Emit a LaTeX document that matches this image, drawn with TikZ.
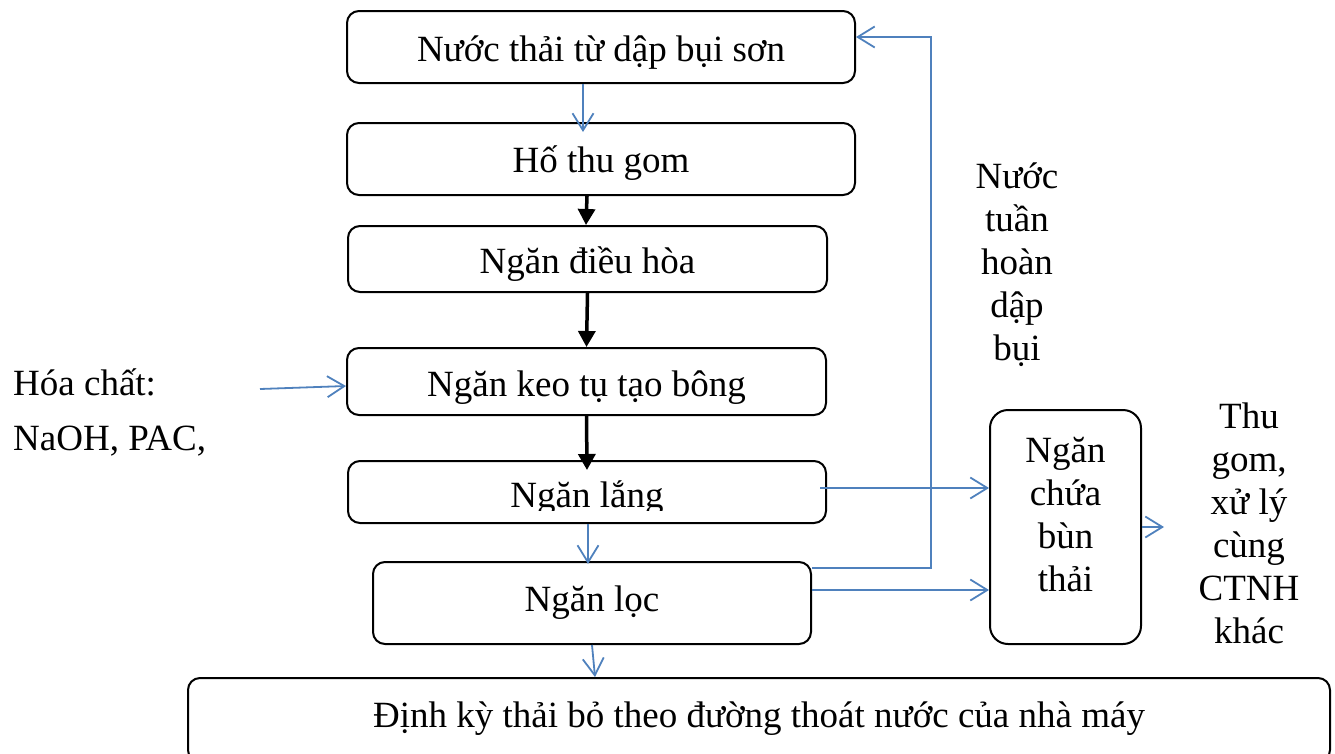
\documentclass[tikz,border=0pt]{standalone}
\usepackage{fontspec}
\setmainfont{Liberation Serif}
\usetikzlibrary{arrows.meta}
\definecolor{flowblue}{HTML}{4F81BD}
\newcommand\diagfont{\fontsize{37}{43}\selectfont}
\begin{document}
\begin{tikzpicture}[x=1pt,y=-1pt,
  box/.style={draw, line width=2pt, rounded corners=12pt, inner sep=0pt,
    font=\diagfont, text height=28pt, text depth=0pt},
  txt/.style={font=\diagfont, inner sep=0pt, anchor=base},
  blueflow/.style={draw=flowblue, line width=1.8pt,
    -{Straight Barb[length=17pt,width=21pt]}},
  blackflow/.style={draw=black, line width=3.5pt,
    -{Triangle[length=16pt,width=17pt]}}]
\useasboundingbox (0,0) rectangle (1335,753);

% treatment chain
\node[box, minimum width=508pt, minimum height=72pt] (source) at (601,47) {Nước thải từ dập bụi sơn};
\node[box, minimum width=508pt, minimum height=72pt, text height=27pt, text depth=1pt] (pit) at (601,159) {Hố thu gom};
\node[box, minimum width=479pt, minimum height=66pt] (equal) at (587.5,259) {Ngăn điều hòa};
\node[box, minimum width=479pt, minimum height=67pt, text height=29pt] (floc) at (586.5,381.5) {Ngăn keo tụ tạo bông};
\node[box, minimum width=478pt, minimum height=62pt] (settle) at (587,492) {};
\begin{scope}
  \clip (348,461) rectangle (826,510);
  \node[txt] (settletxt) at (587,507) {Ngăn lắng};
\end{scope}
\node[box, minimum width=438pt, minimum height=82pt, text height=22pt, text depth=6pt] (filter) at (592,603) {Ngăn lọc};
\node[box, minimum width=1142pt, minimum height=84pt, text height=21pt, text depth=7pt] (drain) at (759,720) {Định kỳ thải bỏ theo đường thoát nước của nhà máy};

% sludge tank
\node[box, rounded corners=18pt, minimum width=151pt, minimum height=234pt] (sludge) at (1065.5,527) {};
\node[txt] (sludgetxt) at (1065.5,462) {\begin{tabular}[t]{@{}c@{}}Ngăn\\chứa\\bùn\\thải\end{tabular}};

% free labels
\node[txt] (recirc) at (1017,188) {\begin{tabular}[t]{@{}c@{}}Nước\\tuần\\hoàn\\dập\\bụi\end{tabular}};
\node[txt] (collect) at (1249,428) {\begin{tabular}[t]{@{}c@{}}Thu\\gom,\\xử lý\\cùng\\CTNH\\khác\end{tabular}};
\node[txt, anchor=base west] (chem1) at (13,395) {Hóa chất:};
\node[txt, anchor=base west] (chem2) at (13,450) {NaOH, PAC,};

% connectors
\draw[blueflow] ([xshift=-18pt]source.south) -- ([xshift=-18pt,yshift=-10pt]pit.north);
\draw[blackflow] ([xshift=-14pt]pit.south) -- ([xshift=-1.5pt]equal.north);
\draw[blackflow] (equal.south) -- (floc.north);
\draw[blackflow] (floc.south) -- ([yshift=-10pt]settle.north);
\draw[blueflow] ([xshift=1pt]settle.south) -- ([xshift=-4pt,yshift=-3pt]filter.north);
\draw[blueflow] (filter.south) -- ([xshift=-164pt]drain.north);

\coordinate (chemin) at (260,389);
\draw[blueflow] (chemin) -- ([yshift=-4.5pt]floc.west);

\coordinate (settleout) at ([xshift=-7pt,yshift=4pt]settle.east);
\draw[blueflow] (settleout) -- (settleout -| sludge.west);
\coordinate (filterout) at ([yshift=13pt]filter.east);
\draw[blueflow] (filterout) -- (filterout -| sludge.west);

\coordinate (loop) at (931,37);
\draw[blueflow] ([yshift=35pt]filter.east) -| (loop) -- ([yshift=10pt]source.east);

\coordinate (disposal) at (1164,527);
\draw[blueflow] (sludge.east) -- (disposal);
\end{tikzpicture}
\end{document}
